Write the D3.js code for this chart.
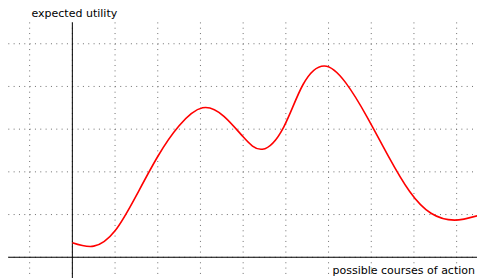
<!DOCTYPE html>
<html><head><meta charset="utf-8">
<script src="https://cdn.jsdelivr.net/npm/d3@7"></script>
<style>body{margin:0;background:#fff}svg{display:block}text{font-family:"DejaVu Sans",sans-serif;font-size:11px;fill:#000}</style>
</head><body><svg id="c" width="477" height="278"></svg>
<script>
// curve readings (x: course of action, y: expected utility)
const curveX = [0, 0.5, 1.0, 1.5, 2.0, 2.5, 3.05, 3.55, 4.0, 4.45, 4.95, 5.4, 5.9, 6.4, 6.9, 7.4, 7.9, 8.4, 8.95, 9.48];
const curveY = [0.34, 0.26, 0.62, 1.45, 2.36, 3.08, 3.50, 3.30, 2.82, 2.53, 3.05, 4.04, 4.48, 4.09, 3.29, 2.37, 1.54, 1.03, 0.87, 0.97];
const gridX = [-1, 0, 1, 2, 3, 4, 5, 6, 7, 8, 9];
const gridY = [0, 1, 2, 3, 4, 5];
const yLabel = "expected utility";
const xLabel = "possible courses of action";

const svg = d3.select("#c");
const x = d3.scaleLinear().domain([-1.5, 9.5]).range([8.3, 478]);
const y = d3.scaleLinear().domain([-0.5, 5.5]).range([278.6, 22.4]);

// grid
const g = svg.append("g").attr("stroke", "#707070").attr("stroke-width", 1).attr("stroke-dasharray", "1,4.33");
g.selectAll(".gx").data(gridX).join("line")
  .attr("x1", d => x(d)).attr("x2", d => x(d)).attr("y1", y(5.5)).attr("y2", y(-0.5));
g.selectAll(".gy").data(gridY).join("line")
  .attr("x1", x(-1.5)).attr("x2", x(9.5)).attr("y1", d => y(d)).attr("y2", d => y(d));

// axes
svg.append("line").attr("x1", x(-1.5)).attr("x2", x(9.5)).attr("y1", y(0)).attr("y2", y(0)).attr("stroke", "#000").attr("stroke-width", 1);
svg.append("line").attr("x1", x(0)).attr("x2", x(0)).attr("y1", y(5.5)).attr("y2", y(-0.5)).attr("stroke", "#000").attr("stroke-width", 1);

// curve
const pts = curveX.map((v, i) => [v, curveY[i]]);
svg.append("path").datum(pts)
  .attr("d", d3.line().x(d => x(d[0])).y(d => y(d[1])).curve(d3.curveNatural))
  .attr("fill", "none").attr("stroke", "#ff0000").attr("stroke-width", 1.6);

// labels
svg.append("text").attr("x", x(0)+2).attr("y", 17).attr("text-anchor", "middle").text(yLabel);
svg.append("text").attr("x", 475).attr("y", 274).attr("text-anchor", "end").text(xLabel);
</script></body></html>
